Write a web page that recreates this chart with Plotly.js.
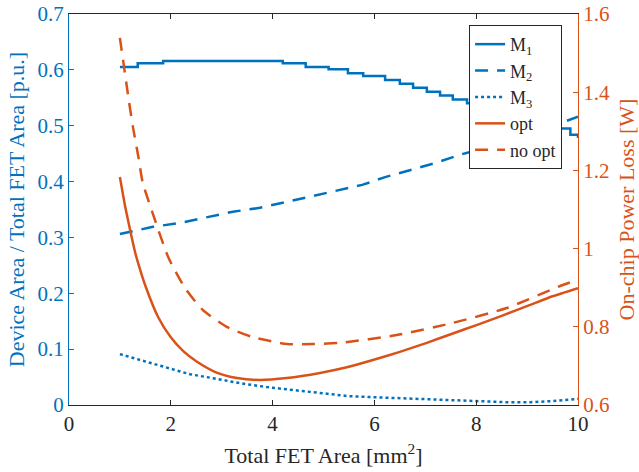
<!DOCTYPE html>
<html>
<head>
<meta charset="utf-8">
<script src="https://cdn.plot.ly/plotly-3.0.1.min.js"></script>
<style>html,body{margin:0;padding:0;background:#fff;}#chart{width:639px;height:472px;}</style>
</head>
<body>
<div id="chart"></div>
<script>
// Series names
const seriesNames = ["M<sub>1</sub>", "M<sub>2</sub>", "M<sub>3</sub>", "opt", "no opt"];

// M1 (device area ratio, step-like)
const m1X = [1, 1.35, 1.85, 4.2, 4.65, 5.1, 5.48, 5.78, 6.21, 6.5, 6.76, 7.03, 7.29, 7.54, 7.82, 8.1, 8.4, 8.7, 9.0, 9.3, 9.6, 9.85, 10];
const m1Y = [0.605, 0.612, 0.616, 0.612, 0.605, 0.601, 0.594, 0.589, 0.582, 0.575, 0.568, 0.561, 0.554, 0.547, 0.540, 0.533, 0.526, 0.518, 0.511, 0.503, 0.495, 0.484, 0.478];

// M2
const m2X = [1, 1.65, 2.18, 2.71, 3.22, 3.75, 4.24, 4.73, 5.28, 5.76, 6.21, 6.7, 7.19, 7.68, 8.2, 8.7, 9.2, 9.6, 10];
const m2Y = [0.306, 0.319, 0.326, 0.336, 0.346, 0.353, 0.363, 0.374, 0.385, 0.394, 0.408, 0.421, 0.433, 0.448, 0.461, 0.475, 0.490, 0.503, 0.516];

// M3
const m3X = [1, 1.45, 1.92, 2.38, 2.83, 3.36, 3.89, 4.4, 4.93, 5.48, 5.97, 6.84, 7.74, 8.6, 9.06, 9.5, 10];
const m3Y = [0.091, 0.079, 0.066, 0.055, 0.048, 0.039, 0.032, 0.027, 0.022, 0.016, 0.014, 0.011, 0.007, 0.005, 0.005, 0.007, 0.011];

// Power loss, optimized
const optX = [1.0, 1.1, 1.2, 1.3, 1.4, 1.5, 1.75, 2.0, 2.25, 2.5, 2.9, 3.3, 3.75, 4.28, 4.93, 5.48, 5.97, 6.5, 7.03, 7.5, 8.02, 8.5, 9.06, 9.5, 10];
const optY = [1.183, 1.11, 1.048, 0.99, 0.945, 0.905, 0.825, 0.773, 0.737, 0.712, 0.683, 0.669, 0.664, 0.669, 0.682, 0.697, 0.715, 0.736, 0.759, 0.781, 0.805, 0.828, 0.856, 0.878, 0.899];

// Power loss, not optimized
const noOptX = [1.0, 1.18, 1.26, 1.36, 1.45, 1.63, 1.95, 2.28, 2.63, 3.1, 3.6, 4.28, 4.79, 5.32, 6.44, 7.54, 8.6, 9.7, 10];
const noOptY = [1.539, 1.375, 1.308, 1.237, 1.168, 1.096, 0.978, 0.899, 0.843, 0.800, 0.774, 0.756, 0.756, 0.759, 0.779, 0.810, 0.848, 0.907, 0.920];

// Tick values
const xTicks = [0, 2, 4, 6, 8, 10];
const yTicks = [0, 0.1, 0.2, 0.3, 0.4, 0.5, 0.6, 0.7];
const y2Ticks = [0.6, 0.8, 1, 1.2, 1.4, 1.6];

const BLUE = "#0072BD", ORANGE = "#D95319", DARK = "#262626";
const FONT = '"Liberation Serif", "Times New Roman", Times, serif';

const traces = [
  {x: m1X, y: m1Y, name: seriesNames[0], mode: "lines", line: {color: BLUE, width: 2.5, shape: "hv"}, yaxis: "y"},
  {x: m2X, y: m2Y, name: seriesNames[1], mode: "lines", line: {color: BLUE, width: 2.5, dash: "13px,9px"}, yaxis: "y"},
  {x: m3X, y: m3Y, name: seriesNames[2], mode: "lines", line: {color: BLUE, width: 2.5, dash: "3px,3px"}, yaxis: "y"},
  {x: optX, y: optY, name: seriesNames[3], mode: "lines", line: {color: ORANGE, width: 2.5, shape: "spline", smoothing: 0.6}, yaxis: "y2"},
  {x: noOptX, y: noOptY, name: seriesNames[4], mode: "lines", line: {color: ORANGE, width: 2.5, dash: "13px,9px", shape: "spline", smoothing: 0.6}, yaxis: "y2"}
];

const layout = {
  width: 639, height: 472,
  margin: {l: 69, r: 61, t: 14, b: 67, pad: 0},
  paper_bgcolor: "#fff", plot_bgcolor: "#fff",
  font: {family: FONT, size: 20, color: DARK},
  showlegend: true,
  legend: {x: 0.786, y: 0.972, xanchor: "left", yanchor: "top", bgcolor: "#fff", bordercolor: DARK, borderwidth: 1, font: {family: FONT, size: 18, color: DARK}, tracegroupgap: 0},
  xaxis: {
    range: [0, 10], tickvals: xTicks, ticks: "inside", ticklen: 5, tickcolor: DARK,
    showline: true, linecolor: DARK, linewidth: 1, mirror: "ticks",
    showgrid: false, zeroline: false,
    tickfont: {family: FONT, size: 21, color: DARK},
    title: {text: "Total FET Area [mm<sup>2</sup>]", font: {family: FONT, size: 22, color: DARK}, standoff: 12}
  },
  yaxis: {
    range: [0, 0.7], tickvals: yTicks, ticks: "inside", ticklen: 5, tickcolor: BLUE,
    showline: true, linecolor: BLUE, linewidth: 1,
    showgrid: false, zeroline: false,
    tickfont: {family: FONT, size: 21, color: BLUE},
    title: {text: "Device Area / Total FET Area [p.u.]", font: {family: FONT, size: 22, color: BLUE}, standoff: 6}
  },
  yaxis2: {
    range: [0.6, 1.6], tickvals: y2Ticks, overlaying: "y", side: "right",
    ticks: "inside", ticklen: 5, tickcolor: ORANGE,
    showline: true, linecolor: ORANGE, linewidth: 1,
    showgrid: false, zeroline: false,
    tickfont: {family: FONT, size: 21, color: ORANGE},
    title: {text: "On-chip Power Loss [W]", font: {family: FONT, size: 22, color: ORANGE}, standoff: 9}
  }
};

Plotly.newPlot("chart", traces, layout, {displayModeBar: false, staticPlot: true});
</script>
</body>
</html>
